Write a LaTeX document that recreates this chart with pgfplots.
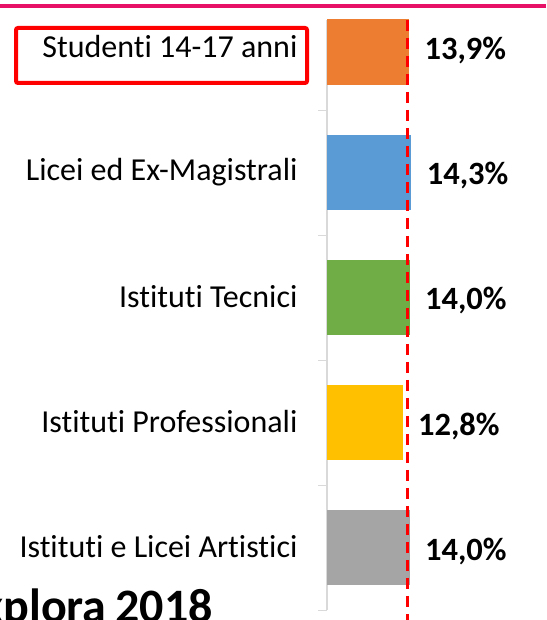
\documentclass[border=0pt]{standalone}
\usepackage{fontspec}
\setmainfont{Carlito}[Ligatures=NoCommon]
\usepackage{pgfplots}
\pgfplotsset{compat=1.18}
\definecolor{cOrange}{RGB}{237,125,49}
\definecolor{cBlue}{RGB}{91,155,213}
\definecolor{cGreen}{RGB}{112,173,71}
\definecolor{cYellow}{RGB}{255,192,0}
\definecolor{cGray}{RGB}{165,165,165}
\definecolor{cAxis}{RGB}{217,217,217}
\definecolor{cPink}{RGB}{232,17,104}
\definecolor{cRed}{RGB}{255,0,0}
\begin{document}
\begin{tikzpicture}
\useasboundingbox (0pt,0pt) rectangle (546pt,620pt);
\clip (0pt,0pt) rectangle (546pt,620pt);
\draw[cPink, line width=4pt] (0pt,614pt) -- (546pt,614pt);
\begin{axis}[
    at={(327pt,9.5pt)}, anchor=south west,
    scale only axis, width=177pt, height=590.5pt,
    xmin=0, xmax=30, ymin=-0.5, ymax=4.224,
    xbar, bar width=75pt,
    axis x line=none, axis y line*=left,
    y axis line style={draw=cAxis, line width=1.5pt, -},
    xtick=\empty,
    ytick={0,1,2,3,4},
    yticklabels={Istituti e Licei Artistici, Istituti Professionali, Istituti Tecnici, Licei ed Ex-Magistrali, Studenti 14-17 anni},
    minor ytick={-0.5,0.5,1.5,2.5,3.5},
    major tick length=0pt, minor tick length=9pt,
    tick align=outside,
    minor tick style={draw=cAxis, line width=1.5pt},
    yticklabel style={font=\fontsize{32}{38}\selectfont, xshift=-26pt, yshift=1pt},
    point meta=x,
    nodes near coords={\pgfmathprintnumber[fixed,fixed zerofill,precision=1,use comma,assume math mode=true]{\pgfplotspointmeta}\%},
    nodes near coords style={font=\bfseries\fontsize{32.5}{36}\selectfont, xshift=12pt, yshift=-3pt, text=black},
]
\addplot[fill=cOrange, draw=none, bar shift=0pt] coordinates {(13.9,4)};
\addplot[fill=cBlue, draw=none, bar shift=0pt] coordinates {(14.3,3)};
\addplot[fill=cGreen, draw=none, bar shift=0pt] coordinates {(14.0,2)};
\addplot[fill=cYellow, draw=none, bar shift=0pt] coordinates {(12.8,1)};
\addplot[fill=cGray, draw=none, bar shift=0pt] coordinates {(14.0,0)};
\coordinate (rlt) at (axis cs:13.7,4.224);
\end{axis}
\draw[cRed, line width=3pt, dash pattern=on 11pt off 7pt] (rlt) -- ++(0pt,-640pt);
\draw[cRed, line width=4pt, rounded corners=2pt] (16pt,537pt) rectangle (307pt,592pt);
\node[anchor=base east, font=\bfseries\fontsize{48}{52}\selectfont, inner sep=0pt] at (213pt,-2pt) {Explora\hspace{9pt}2018};
\end{tikzpicture}
\end{document}
